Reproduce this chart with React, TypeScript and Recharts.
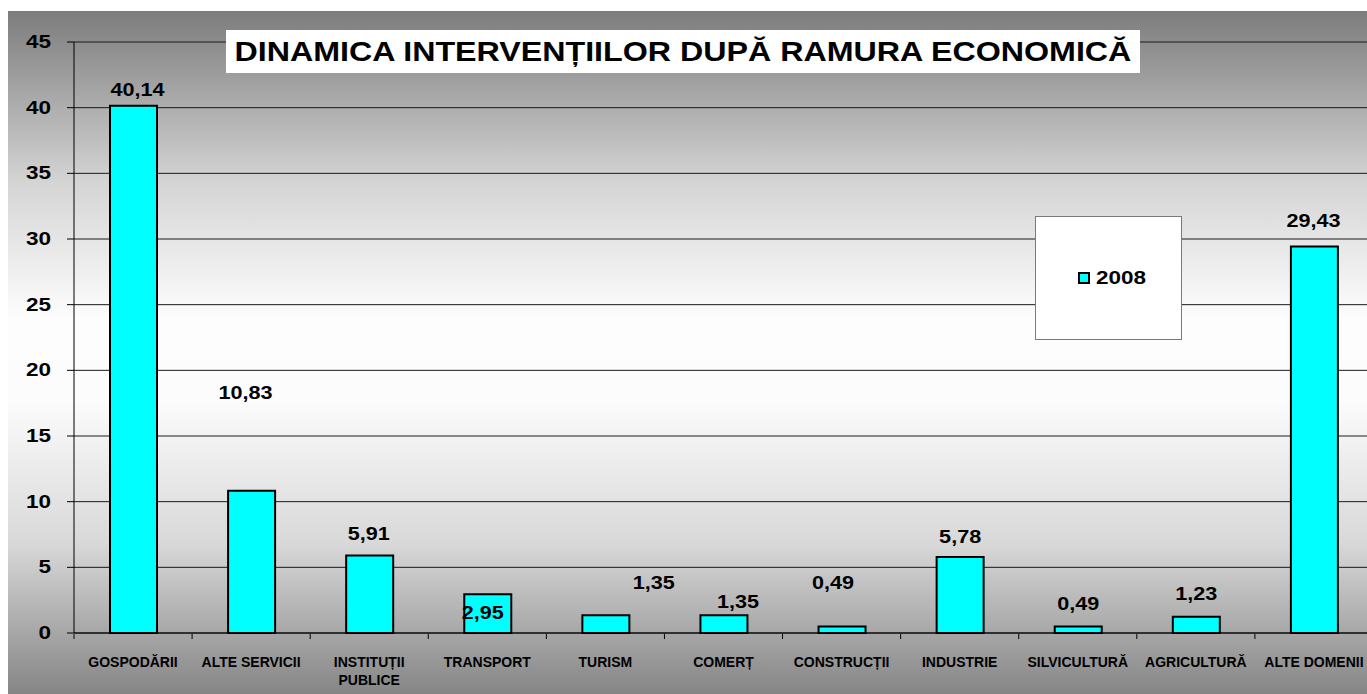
import React from 'react';
import { BarChart, Bar, XAxis, YAxis, CartesianGrid, LabelList, Text } from 'recharts';

const categories = [
  'GOSPODĂRII', 'ALTE SERVICII', 'INSTITUȚII PUBLICE', 'TRANSPORT', 'TURISM', 'COMERȚ',
  'CONSTRUCȚII', 'INDUSTRIE', 'SILVICULTURĂ', 'AGRICULTURĂ', 'ALTE DOMENII',
];
const values2008 = [40.14, 10.83, 5.91, 2.95, 1.35, 1.35, 0.49, 5.78, 0.49, 1.23, 29.43];
const yTicks = [0, 5, 10, 15, 20, 25, 30, 35, 40, 45];
const seriesName = '2008';

// label nudges (px) so the value labels sit where the original placed them
const labelShift = [
  [4, 4], [-6, -78], [-1, -1], [-5, 39], [48, -12], [14, 7],
  [-9, -24], [0, 0], [0, -3], [0, -3], [-1, -5],
];

const data = categories.map((name, i) => ({ name, v2008: values2008[i] }));

const W = 1359;
const H = 683;
const FONT = '"Liberation Sans", Arial, sans-serif';

const fmt = (v: number) => v.toFixed(2).replace('.', ',');

const ValueLabel = (props: any) => {
  const { x, y, width, value, index } = props;
  const [dx, dy] = labelShift[index] || [0, 0];
  return (
    <text
      transform={`translate(${x + width / 2 + dx},${y - 14 + dy}) scale(1.2,1)`}
      textAnchor="middle"
      fontFamily={FONT}
      fontWeight="bold"
      fontSize={18}
      fill="#000"
    >
      {fmt(value)}
    </text>
  );
};

const YTick = (props: any) => {
  const { x, y, payload } = props;
  return (
    <text
      transform={`translate(${x},${y + 6}) scale(1.25,1)`}
      textAnchor="end"
      fontFamily={FONT}
      fontWeight="bold"
      fontSize={18}
      fill="#000"
    >
      {payload.value}
    </text>
  );
};

const CatTick = (props: any) => {
  const { x, y, payload } = props;
  const half = 1299 / 11 / 2;
  return (
    <g>
      <line x1={x - half} y1={y - 7} x2={x - half} y2={y - 2} stroke="#000" />
      <Text
        x={x}
        y={y + 16}
        width={128}
        textAnchor="middle"
        verticalAnchor="start"
        lineHeight={18}
        style={{ fontFamily: FONT, fontWeight: 'bold', fontSize: 14 }}
        fill="#000"
      >
        {payload.value}
      </Text>
    </g>
  );
};

export default function App() {
  return (
    <div
      style={{
        position: 'absolute',
        left: 8,
        top: 11,
        width: W,
        height: H,
        overflow: 'hidden',
        background:
          'linear-gradient(to bottom, #7c7c7c 0%, #d4d4d4 25%, #fdfdfd 45%, #fcfcfc 57%, #d8d8d8 78%, #858585 100%)',
      }}
    >
      <BarChart
        width={W}
        height={H}
        data={data}
        margin={{ top: 31, right: -6, bottom: 11, left: 6 }}
        barCategoryGap={0}
      >
        <CartesianGrid vertical={false} stroke="#1a1a1a" />
        <XAxis
          dataKey="name"
          interval={0}
          height={50}
          axisLine={{ stroke: '#000' }}
          tickLine={false}
          tick={<CatTick />}
        />
        <YAxis
          domain={[0, 45]}
          ticks={yTicks}
          width={60}
          tickSize={7}
          tickMargin={16}
          axisLine={{ stroke: '#000' }}
          tickLine={{ stroke: '#000' }}
          tick={<YTick />}
        />
        <Bar
          dataKey="v2008"
          name={seriesName}
          fill="#00ffff"
          stroke="#000"
          strokeWidth={2}
          barSize={47}
          isAnimationActive={false}
        >
          <LabelList dataKey="v2008" content={<ValueLabel />} />
        </Bar>
      </BarChart>
      <div
        style={{
          position: 'absolute',
          left: 1027,
          top: 205,
          width: 139,
          height: 122,
          paddingLeft: 6,
          background: '#fff',
          border: '1px solid #7a7a7a',
          display: 'flex',
          alignItems: 'center',
          justifyContent: 'center',
          fontFamily: FONT,
          fontWeight: 'bold',
          fontSize: 18,
          color: '#000',
        }}
      >
        <span
          style={{
            display: 'inline-block',
            width: 8,
            height: 8,
            background: '#00ffff',
            border: '2px solid #000',
            marginRight: 6,
          }}
        />
        <span style={{ display: 'inline-block', transform: 'scaleX(1.25)', transformOrigin: 'left center', width: 50 }}>
          {seriesName}
        </span>
      </div>
      <div
        style={{
          position: 'absolute',
          left: 218,
          top: 19,
          width: 914,
          height: 43,
          background: '#fff',
          display: 'flex',
          alignItems: 'center',
          justifyContent: 'center',
          fontFamily: FONT,
          fontWeight: 'bold',
          fontSize: 28,
          color: '#000',
          whiteSpace: 'nowrap',
        }}
      >
        <span style={{ display: 'inline-block', transform: 'scaleX(1.15)' }}>
          DINAMICA INTERVENȚIILOR DUPĂ RAMURA ECONOMICĂ
        </span>
      </div>
    </div>
  );
}
